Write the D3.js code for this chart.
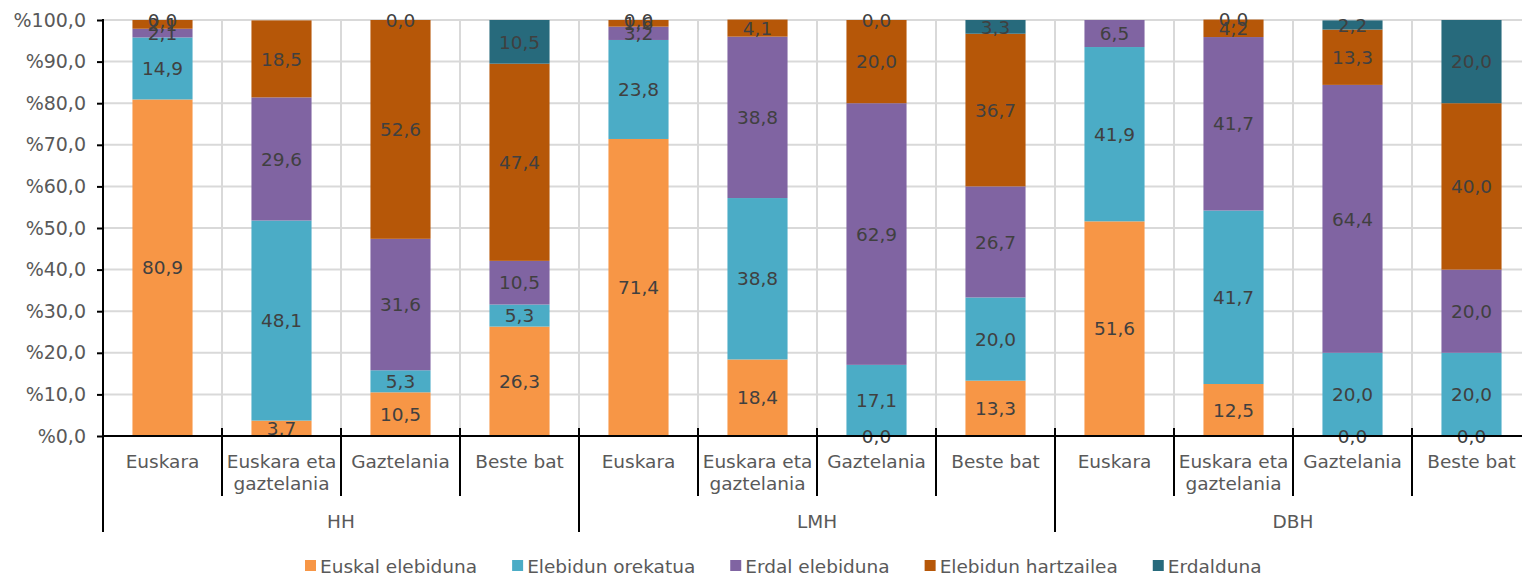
<!DOCTYPE html>
<html>
<head>
<meta charset="utf-8">
<script src="https://cdn.jsdelivr.net/npm/d3@7"></script>
<style>
  html, body { margin: 0; padding: 0; background: #fff; }
  svg { display: block; font-family: "DejaVu Sans", Verdana, sans-serif; }
</style>
</head>
<body>
<svg id="chart" width="1522" height="577"></svg>
<script>
const groups = ["HH", "LMH", "DBH"];
const categories = ["Euskara", "Euskara eta gaztelania", "Gaztelania", "Beste bat"];
const seriesNames = ["Euskal elebiduna", "Elebidun orekatua", "Erdal elebiduna", "Elebidun hartzailea", "Erdalduna"];
const seriesColors = ["#F79646", "#4BACC6", "#8064A2", "#B65708", "#276A7C"];
// values per bar (group x category order), null = no value
const euskalElebiduna   = [80.9, 3.7, 10.5, 26.3,   71.4, 18.4, 0.0, 13.3,   51.6, 12.5, 0.0, 0.0];
const elebidunOrekatua  = [14.9, 48.1, 5.3, 5.3,    23.8, 38.8, 17.1, 20.0,  41.9, 41.7, 20.0, 20.0];
const erdalElebiduna    = [2.1, 29.6, 31.6, 10.5,   3.2, 38.8, 62.9, 26.7,   6.5, 41.7, 64.4, 20.0];
const elebidunHartzailea= [2.1, 18.5, 52.6, 47.4,   1.6, 4.1, 20.0, 36.7,    null, 4.2, 13.3, 40.0];
const erdalduna         = [0.0, null, 0.0, 10.5,    0.0, null, 0.0, 3.3,     null, 0.0, 2.2, 20.0];
const yTicks = [0, 10, 20, 30, 40, 50, 60, 70, 80, 90, 100];

const seriesValues = [euskalElebiduna, elebidunOrekatua, erdalElebiduna, elebidunHartzailea, erdalduna];

const rows = [];
groups.forEach((g, gi) => categories.forEach((c, ci) => {
  const i = gi * categories.length + ci;
  const r = { id: i, group: g, cat: c };
  seriesNames.forEach((s, si) => { r[s] = seriesValues[si][i]; });
  rows.push(r);
}));

const FS = "18.5px";
const svg = d3.select("#chart");
const mLeft = 103, mRight = 1531, mTop = 20, mBottom = 436;
const x = d3.scaleBand().domain(rows.map(d => d.id)).range([mLeft, mRight]).paddingInner(0).paddingOuter(0);
const y = d3.scaleLinear().domain([0, 100]).range([mBottom, mTop]);
const bw = x.bandwidth();
const barW = bw * 0.505;
const fmt = v => v.toFixed(1).replace(".", ",");

// horizontal gridlines
svg.append("g").selectAll("line").data(yTicks).join("line")
  .attr("x1", mLeft).attr("x2", mRight)
  .attr("y1", d => y(d)).attr("y2", d => y(d))
  .attr("stroke", "#d9d9d9").attr("stroke-width", 2);
// vertical gridlines at category boundaries
svg.append("g").selectAll("line").data(rows.slice(1)).join("line")
  .attr("x1", d => x(d.id)).attr("x2", d => x(d.id))
  .attr("y1", mTop).attr("y2", mBottom)
  .attr("stroke", "#d9d9d9").attr("stroke-width", 2);

// stacked bars
const stack = d3.stack().keys(seriesNames).value((d, k) => d[k] == null ? 0 : d[k]);
const stacked = stack(rows);
const barsG = svg.append("g");
stacked.forEach((layer, si) => {
  barsG.append("g").attr("fill", seriesColors[si])
    .selectAll("rect").data(layer).join("rect")
    .attr("x", d => x(d.data.id) + (bw - barW) / 2)
    .attr("width", barW)
    .attr("y", d => y(d[1]))
    .attr("height", d => Math.max(0, y(d[0]) - y(d[1])));
});

// y axis
const yAxis = d3.axisLeft(y).tickValues(yTicks).tickSize(6).tickPadding(11)
  .tickFormat(d => "%" + fmt(d));
const yg = svg.append("g").attr("transform", `translate(${mLeft},0)`).call(yAxis);
yg.select(".domain").remove();
yg.selectAll(".tick line").attr("stroke", "#000").attr("stroke-width", 2);
yg.selectAll(".tick text").attr("fill", "#595959").style("font-size", "19px")
  .style("font-family", "'DejaVu Sans', Verdana, sans-serif");
svg.append("line").attr("x1", mLeft).attr("x2", mLeft).attr("y1", mTop - 1).attr("y2", mBottom)
  .attr("stroke", "#000").attr("stroke-width", 2);

// data labels
const labelsG = svg.append("g");
stacked.forEach((layer, si) => {
  labelsG.append("g").selectAll("text")
    .data(layer.filter(d => d.data[seriesNames[si]] != null)).join("text")
    .attr("x", d => x(d.data.id) + bw / 2)
    .attr("y", d => (y(d[0]) + y(d[1])) / 2)
    .attr("text-anchor", "middle").attr("dy", "0.36em")
    .attr("fill", "#404040").style("font-size", FS)
    .text(d => fmt(d.data[seriesNames[si]]));
});

// x axis line
svg.append("line").attr("x1", mLeft).attr("x2", mRight).attr("y1", mBottom).attr("y2", mBottom)
  .attr("stroke", "#000").attr("stroke-width", 2);
// category dividers
const boundaries = d3.range(0, rows.length + 1);
svg.append("g").selectAll("line").data(boundaries).join("line")
  .attr("x1", i => mLeft + i * bw).attr("x2", i => mLeft + i * bw)
  .attr("y1", mBottom - 8)
  .attr("y2", i => (i % categories.length === 0) ? 532 : 496)
  .attr("stroke", "#000").attr("stroke-width", 2);

// category labels
const catG = svg.append("g").attr("fill", "#595959").style("font-size", FS);
rows.forEach(d => {
  const lines = d.cat === "Euskara eta gaztelania" ? ["Euskara eta", "gaztelania"] : [d.cat];
  const t = catG.append("text").attr("text-anchor", "middle")
    .attr("x", x(d.id) + bw / 2).attr("y", 468);
  lines.forEach((ln, li) => {
    t.append("tspan").attr("x", x(d.id) + bw / 2).attr("dy", li === 0 ? 0 : 22).text(ln);
  });
});
// group labels
svg.append("g").selectAll("text").data(groups).join("text")
  .attr("x", (g, gi) => mLeft + (gi * 4 + 2) * bw)
  .attr("y", 528).attr("text-anchor", "middle")
  .attr("fill", "#595959").style("font-size", FS).text(g => g);

// legend
const legend = svg.append("g");
let lx = 305;
seriesNames.forEach((s, si) => {
  legend.append("rect").attr("x", lx).attr("y", 560).attr("width", 11).attr("height", 11)
    .attr("fill", seriesColors[si]);
  const t = legend.append("text").attr("x", lx + 15).attr("y", 566).attr("dy", "0.36em")
    .attr("fill", "#595959").style("font-size", FS).text(s);
  lx += 15 + t.node().getComputedTextLength() + 35;
});
</script>
</body>
</html>
